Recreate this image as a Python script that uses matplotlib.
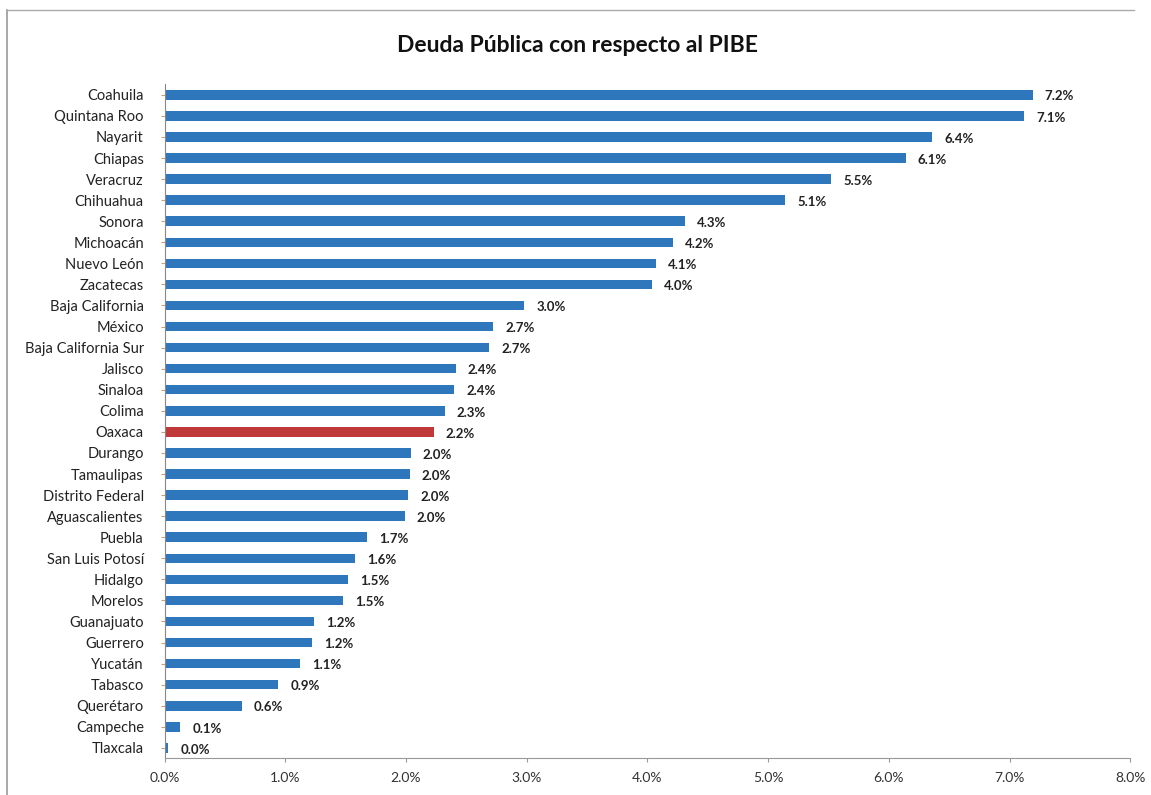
import matplotlib.pyplot as plt
from matplotlib.lines import Line2D

# Estados, de arriba hacia abajo
estados = ['Coahuila', 'Quintana Roo', 'Nayarit', 'Chiapas', 'Veracruz', 'Chihuahua',
           'Sonora', 'Michoacán', 'Nuevo León', 'Zacatecas', 'Baja California', 'México',
           'Baja California Sur', 'Jalisco', 'Sinaloa', 'Colima', 'Oaxaca', 'Durango',
           'Tamaulipas', 'Distrito Federal', 'Aguascalientes', 'Puebla', 'San Luis Potosí',
           'Hidalgo', 'Morelos', 'Guanajuato', 'Guerrero', 'Yucatán', 'Tabasco',
           'Querétaro', 'Campeche', 'Tlaxcala']

# Deuda / PIBE (%)
deuda = [7.19, 7.12, 6.36, 6.14, 5.52, 5.14, 4.31, 4.21, 4.07, 4.04, 2.98, 2.72,
         2.69, 2.41, 2.40, 2.32, 2.23, 2.04, 2.03, 2.02, 1.99, 1.68, 1.58, 1.52,
         1.48, 1.24, 1.22, 1.12, 0.94, 0.64, 0.13, 0.03]

etiquetas = ['7.2%', '7.1%', '6.4%', '6.1%', '5.5%', '5.1%', '4.3%', '4.2%', '4.1%', '4.0%',
             '3.0%', '2.7%', '2.7%', '2.4%', '2.4%', '2.3%', '2.2%', '2.0%', '2.0%', '2.0%',
             '2.0%', '1.7%', '1.6%', '1.5%', '1.5%', '1.2%', '1.2%', '1.1%', '0.9%', '0.6%',
             '0.1%', '0.0%']

ticks_x = [0, 1, 2, 3, 4, 5, 6, 7, 8]
ticks_lbl = ['0.0%', '1.0%', '2.0%', '3.0%', '4.0%', '5.0%', '6.0%', '7.0%', '8.0%']

azul = '#2f77bd'
rojo = '#c0393a'
colores = [rojo if e == 'Oaxaca' else azul for e in estados]

plt.rcParams['font.family'] = ['Lato', 'DejaVu Sans']

fig = plt.figure(figsize=(11.51, 7.95), dpi=100)
ax = fig.add_axes([0.143, 0.046, 0.839, 0.848])

pos = list(range(len(estados)))
ax.barh(pos, deuda, height=0.45, color=colores)
ax.set_ylim(len(estados) - 0.5, -0.5)
ax.set_xlim(0, 8)

for y, v, t in zip(pos, deuda, etiquetas):
    ax.text(v + 0.1, y + 0.08, t, fontsize=9.5, fontweight='bold', color='#222222',
            va='center', ha='left')

ax.set_yticks(pos)
ax.set_yticklabels(estados, fontsize=10.5, color='#222222')
ax.set_xticks(ticks_x)
ax.set_xticklabels(ticks_lbl, fontsize=10, color='#333333')
ax.tick_params(axis='y', length=3, color='#c9a07a', pad=12)
ax.tick_params(axis='x', length=3, color='#999999', pad=7)

for s in ['top', 'right']:
    ax.spines[s].set_visible(False)
ax.spines['left'].set_color('#888888')
ax.spines['bottom'].set_color('#999999')

fig.text(0.502, 0.943, 'Deuda Pública con respecto al PIBE', fontsize=16.5,
         fontweight='bold', ha='center', va='center', color='#111111')

# marco exterior del gráfico
fig.add_artist(Line2D([0.006, 0.006], [0.0, 0.988], color='#999999', lw=1.2))
fig.add_artist(Line2D([0.006, 0.985], [0.988, 0.988], color='#aaaaaa', lw=1.0))

plt.savefig('out.png', dpi=100)
plt.close()
